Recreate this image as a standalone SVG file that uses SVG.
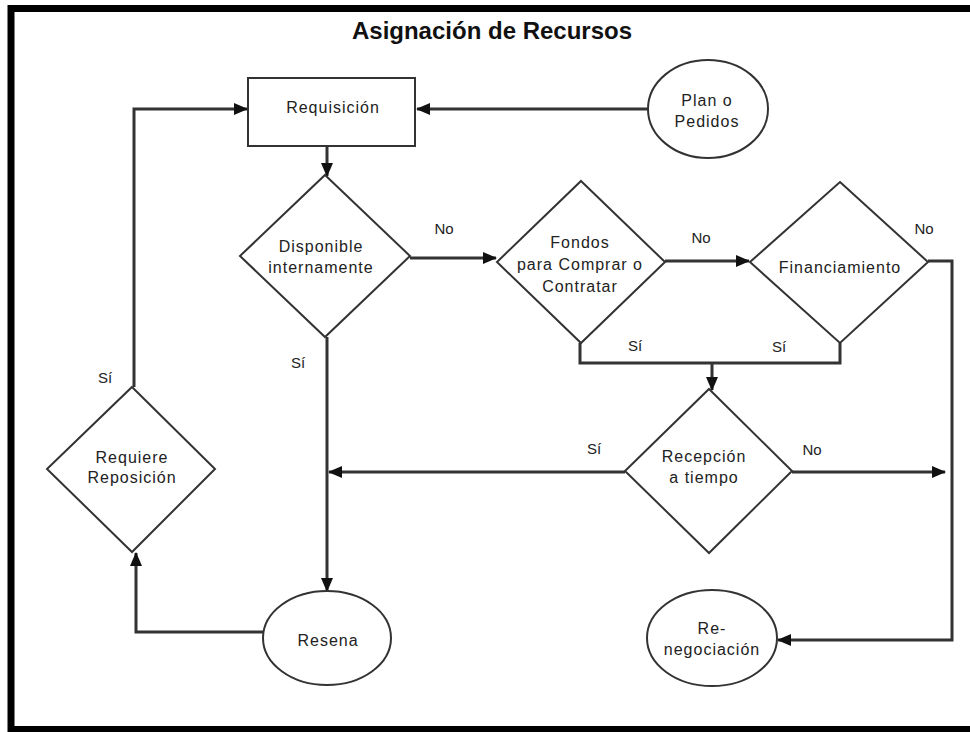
<svg xmlns="http://www.w3.org/2000/svg" width="970" height="732" viewBox="0 0 970 732">
<defs>
<marker id="arr" markerUnits="userSpaceOnUse" markerWidth="14" markerHeight="12" viewBox="0 0 14 12" refX="13" refY="6" orient="auto">
<path d="M0,0 L14,6 L0,12 Z" fill="#111"/>
</marker>
</defs>
<style>
.shape{fill:#fff;stroke:#333;stroke-width:2}
.conn{fill:none;stroke:#333;stroke-width:3}
.t{font-family:"Liberation Sans",Arial,sans-serif;font-size:16px;fill:#222;text-anchor:middle;letter-spacing:1px}
.lbl{font-family:"Liberation Sans",Arial,sans-serif;font-size:15px;fill:#222;text-anchor:middle}
.title{font-family:"Liberation Sans",Arial,sans-serif;font-size:24px;font-weight:bold;fill:#111;text-anchor:middle}
</style>
<rect x="0" y="0" width="970" height="732" fill="#fff"/>
<path d="M970,8.5 H11 V729.5 H970" fill="none" stroke="#000" stroke-width="7"/>
<text class="title" x="492" y="39">Asignación de Recursos</text>

<g id="connectors">
<path class="conn" d="M648,109 H417" marker-end="url(#arr)"/>
<path class="conn" d="M134,387 V109 H247" marker-end="url(#arr)"/>
<path class="conn" d="M327,146 V176" marker-end="url(#arr)"/>
<path class="conn" d="M410,258 H496" marker-end="url(#arr)"/>
<path class="conn" d="M665,261 H749" marker-end="url(#arr)"/>
<path class="conn" d="M580,343 V363 H840 V343"/>
<path class="conn" d="M712,363 V390" marker-end="url(#arr)"/>
<path class="conn" d="M928,261 H952 V640 H778" marker-end="url(#arr)"/>
<path class="conn" d="M327,337 V591" marker-end="url(#arr)"/>
<path class="conn" d="M625,472 H329" marker-end="url(#arr)"/>
<path class="conn" d="M792,472 H945" marker-end="url(#arr)"/>
<path class="conn" d="M263,632 H136 V553" marker-end="url(#arr)"/>
<text class="lbl" x="444" y="234">No</text>
<text class="lbl" x="701" y="243">No</text>
<text class="lbl" x="924" y="234">No</text>
<text class="lbl" x="635" y="351">Sí</text>
<text class="lbl" x="779" y="352">Sí</text>
<text class="lbl" x="298" y="368">Sí</text>
<text class="lbl" x="105" y="383">Sí</text>
<text class="lbl" x="594" y="454">Sí</text>
<text class="lbl" x="812" y="455">No</text>
</g>

<g id="requisicion">
<rect class="shape" x="248" y="78" width="167" height="68"/>
<text class="t" x="333" y="113">Requisición</text>
</g>

<g id="plan-pedidos">
<ellipse class="shape" cx="708" cy="109" rx="60" ry="49"/>
<text class="t" x="707" y="106">Plan o</text>
<text class="t" x="707" y="127">Pedidos</text>
</g>

<g id="disponible">
<polygon class="shape" points="325,175 410,256 325,337 240,256"/>
<text class="t" x="321" y="252">Disponible</text>
<text class="t" x="321" y="273">internamente</text>
</g>

<g id="fondos">
<polygon class="shape" points="581,181 665,262 581,343 497,262"/>
<text class="t" x="580" y="248">Fondos</text>
<text class="t" x="580" y="270">para Comprar o</text>
<text class="t" x="580" y="292">Contratar</text>
</g>

<g id="financiamiento">
<polygon class="shape" points="840,182 928,262 840,343 750,262"/>
<text class="t" x="840" y="273">Financiamiento</text>
</g>

<g id="recepcion">
<polygon class="shape" points="709,389 792,471 709,553 625,471"/>
<text class="t" x="704" y="462">Recepción</text>
<text class="t" x="704" y="483">a tiempo</text>
</g>

<g id="requiere">
<polygon class="shape" points="132,387 215,469 132,552 47,469"/>
<text class="t" x="132" y="463">Requiere</text>
<text class="t" x="132" y="483">Reposición</text>
</g>

<g id="resena">
<ellipse class="shape" cx="327" cy="638" rx="64" ry="47"/>
<text class="t" x="328" y="646">Resena</text>
</g>

<g id="renegociacion">
<ellipse class="shape" cx="712" cy="638" rx="65" ry="48"/>
<text class="t" x="712" y="634">Re-</text>
<text class="t" x="712" y="655">negociación</text>
</g>
</svg>
